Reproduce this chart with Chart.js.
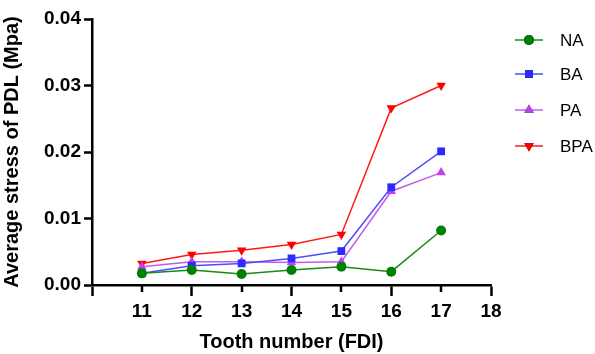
<!DOCTYPE html>
<html>
<head>
<meta charset="utf-8">
<script src="https://cdn.jsdelivr.net/npm/chart.js@4/dist/chart.umd.min.js"></script>
<style>
  html, body { margin: 0; padding: 0; background: #fff; }
  #wrap { width: 595px; height: 354px; }
</style>
</head>
<body>
<div id="wrap"><canvas id="chart" width="595" height="354"></canvas></div>
<script>
// tooth numbers (FDI) on the x axis
const teeth = [11, 12, 13, 14, 15, 16, 17];
const seriesNames = ["NA", "BA", "PA", "BPA"];
// average stress of PDL (Mpa)
const naValues  = [0.00175, 0.00225, 0.00165, 0.00225, 0.00275, 0.0020, 0.0082];
const baValues  = [0.00175, 0.0029, 0.00325, 0.0040, 0.0051, 0.0147, 0.0201];
const paValues  = [0.00275, 0.0035, 0.0035, 0.0034, 0.0035, 0.0141, 0.0169];
const bpaValues = [0.00325, 0.0046, 0.00524, 0.0061, 0.0076, 0.0266, 0.0300];
const yTicks = [0, 0.01, 0.02, 0.03, 0.04];

const FONT = "'Liberation Sans', Arial, sans-serif";

function points(vals){
    return vals.map((v, i) => ({x: teeth[i], y: v}));
}

function makeSet(label, vals, line, fill, style, radius, rot){
    return {
        label: label,
        data: points(vals),
        borderColor: line,
        backgroundColor: fill,
        pointBackgroundColor: fill,
        pointBorderColor: fill,
        pointBorderWidth: 0,
        pointStyle: style,
        pointRadius: radius,
        pointRotation: rot || 0,
        borderWidth: 1.5,
        tension: 0
    };
}

// draws the legend on the right (line + marker + name) and the short minor ticks
const extras = {
    id: 'extras',
    afterDraw(chart){
        const ctx = chart.ctx;
        const xs = chart.scales.x;
        const area = chart.chartArea;
        ctx.save();
        ctx.strokeStyle = '#000';
        ctx.lineWidth = 2.5;
        [11, 13, 15, 17].forEach(t => {
            const px = Math.round(xs.getPixelForValue(t));
            ctx.beginPath();
            ctx.moveTo(px, area.bottom);
            ctx.lineTo(px, area.bottom + 7);
            ctx.stroke();
        });

        const rows = [40, 74, 110, 146];
        chart.data.datasets.forEach((ds, i) => {
            const y = rows[i];
            ctx.strokeStyle = ds.borderColor;
            ctx.lineWidth = 1.5;
            ctx.beginPath();
            ctx.moveTo(515, y);
            ctx.lineTo(543, y);
            ctx.stroke();
            Chart.helpers.drawPoint(ctx, {
                pointStyle: ds.pointStyle,
                radius: ds.pointRadius,
                rotation: ds.pointRotation,
                borderWidth: 0
            }, 529, y);
            ctx.fillStyle = ds.pointBackgroundColor;
            ctx.fill();
            ctx.fillStyle = '#000';
            ctx.font = "17px " + FONT;
            ctx.textBaseline = 'middle';
            ctx.textAlign = 'left';
            ctx.fillText(ds.label, 560, y + 1);
        });
        ctx.restore();
    }
};

const data = {
    datasets: [
        makeSet(seriesNames[0], naValues, '#1a8a1a', '#008000', 'circle', 5),
        makeSet(seriesNames[1], baValues, '#4d4dff', '#2b2bff', 'rect', 5.5),
        makeSet(seriesNames[2], paValues, '#c15cf0', '#bb44ee', 'triangle', 5.5),
        makeSet(seriesNames[3], bpaValues, '#ff1a1a', '#ff0000', 'triangle', 5.5, 180)
    ]
};

new Chart(document.getElementById('chart'), {
    type: 'line',
    data: data,
    plugins: [extras],
    options: {
        responsive: false,
        animation: false,
        layout: { padding: { top: 19, right: 104, left: 0, bottom: 0 } },
        plugins: { legend: { display: false }, tooltip: { enabled: false } },
        scales: {
            x: {
                type: 'linear',
                min: 10,
                max: 18,
                afterBuildTicks: s => { s.ticks = [10,11,12,13,14,15,16,17,18].map(v => ({value: v})); },
                afterFit: s => { s.height = 69; },
                border: { display: true, color: '#000', width: 2.5 },
                grid: {
                    drawOnChartArea: false,
                    drawTicks: true,
                    tickLength: 11,
                    tickWidth: 2.5,
                    tickColor: c => (c.tick && c.tick.value % 2 === 0) ? '#000' : 'rgba(0,0,0,0)'
                },
                ticks: {
                    autoSkip: false,
                    maxRotation: 0,
                    padding: 4,
                    color: '#000',
                    font: { family: FONT, size: 19, weight: 'bold' },
                    callback: v => v === 10 ? '' : String(v)
                },
                title: {
                    display: true,
                    text: 'Tooth number (FDI)',
                    color: '#000',
                    padding: { top: 3, bottom: 0 },
                    font: { family: FONT, size: 20, weight: 'bold' }
                }
            },
            y: {
                min: 0,
                max: 0.04,
                afterBuildTicks: s => { s.ticks = yTicks.map(v => ({value: v})); },
                afterFit: s => { s.width = 92; },
                border: { display: true, color: '#000', width: 2.5 },
                grid: {
                    drawOnChartArea: false,
                    drawTicks: true,
                    tickLength: 8,
                    tickWidth: 2.5,
                    tickColor: '#000'
                },
                ticks: {
                    padding: 3,
                    color: '#000',
                    font: { family: FONT, size: 19, weight: 'bold' },
                    callback: v => v.toFixed(2)
                },
                title: {
                    display: true,
                    text: 'Average stress of PDL (Mpa)',
                    color: '#000',
                    padding: { top: 0, bottom: 2 },
                    font: { family: FONT, size: 20, weight: 'bold' }
                }
            }
        }
    }
});
</script>
</body>
</html>
